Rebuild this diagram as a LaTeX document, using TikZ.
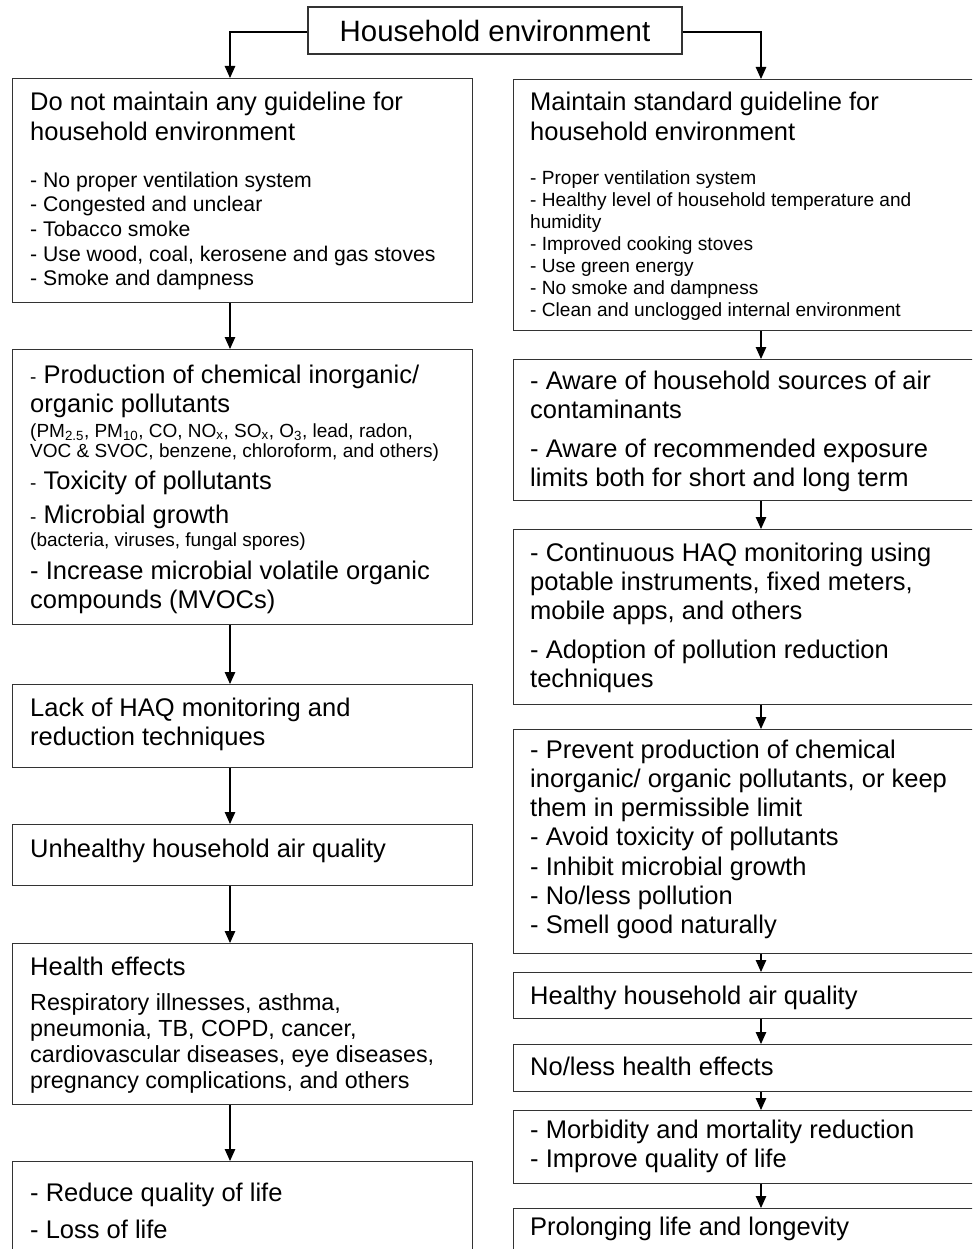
\documentclass[tikz,border=0pt]{standalone}
\usepackage{fontspec}
\setmainfont{Liberation Sans}
\usetikzlibrary{arrows.meta}
\newcommand{\htitle}{\fontsize{29.4}{34}\selectfont\spaceskip=0pt\xspaceskip=0pt}
\newcommand{\hbody}{\fontsize{25.5}{29.3}\selectfont\spaceskip=0pt\xspaceskip=0pt}
\newcommand{\hlist}{\fontsize{21.2}{24.6}\selectfont\spaceskip=0pt\xspaceskip=0pt}
\newcommand{\hright}{\fontsize{19.1}{22}\selectfont\spaceskip=0pt\xspaceskip=0pt}
\newcommand{\hnote}{\fontsize{19}{20}\selectfont\spaceskip=0pt\xspaceskip=0pt}
\newcommand{\hill}{\fontsize{23.3}{26}\selectfont\spaceskip=0pt\xspaceskip=0pt}
\begin{document}
\begin{tikzpicture}[x=1pt,y=-1pt,
  box/.style={draw=black!80, line width=1.2pt, inner sep=0pt, anchor=north west},
  txt/.style={anchor=base west, inner sep=0pt, align=left, text width=450pt, font=\hbody},
  arr/.style={draw=black, line width=1.1pt, -{Triangle[width=10.5pt,length=12pt]}}]
\useasboundingbox (0,0) rectangle (972,1249);
\fill [white] (0,0) rectangle (972,1249);
\clip (0,0) rectangle (972,1249);
\coordinate (lx) at (230,0);
\coordinate (rx) at (761,0);
\node [draw=black!80, line width=1.2pt, minimum width=374pt, minimum height=47pt, inner sep=0pt, font=\htitle] (env) at (495,30.5) {Household environment};
\node [box, minimum width=460pt, minimum height=224pt] (dnm) at (12,78) {};
\node [txt] (dnmt) at (30,111) {\hbody Do not maintain any guideline for\\household environment\par
\vspace{22.4pt}{\hlist - No proper ventilation system\\- Congested and unclear\\- Tobacco smoke\\- Use wood, coal, kerosene and gas stoves\\- Smoke and dampness\par}};
\node [box, minimum width=460pt, minimum height=275pt] (prod) at (12,349) {};
\node [txt] (prodt) at (30,383) {\hbody{\hnote -} Production of chemical inorganic/\\organic pollutants\par
\vspace{5pt}{\hnote (PM\textsubscript{2.5}, PM\textsubscript{10}, CO, NO\textsubscript{x}, SO\textsubscript{x}, O\textsubscript{3}, lead, radon,\\VOC \& SVOC, benzene, chloroform, and others)\par}
\vspace{2.7pt}{\hnote -} Toxicity of pollutants\par
\vspace{4.7pt}{\hnote -} Microbial growth\par
\vspace{3pt}{\hnote (bacteria, viruses, fungal spores)\par}
\vspace{3.7pt}- Increase microbial volatile organic\\compounds (MVOCs)\par};
\node [box, minimum width=460pt, minimum height=83pt] (lack) at (12,684) {};
\node [txt] (lackt) at (30,716) {\hbody Lack of HAQ monitoring and\\reduction techniques};
\node [box, minimum width=460pt, minimum height=61pt] (unh) at (12,824) {};
\node [txt] (unht) at (30,857) {\hbody Unhealthy household air quality};
\node [box, minimum width=460pt, minimum height=161pt] (hef) at (12,943) {};
\node [txt] (heft) at (30,975) {\hbody Health effects\par
\vspace{9pt}{\hill Respiratory illnesses, asthma,\\pneumonia, TB, COPD, cancer,\\cardiovascular diseases, eye diseases,\\pregnancy complications, and others\par}};
\node [box, minimum width=460pt, minimum height=200pt] (red) at (12,1161) {};
\node [txt] (redt) at (30,1201) {\hbody - Reduce quality of life\par
\vspace{7.7pt}- Loss of life\par};
\node [box, minimum width=480pt, minimum height=251pt] (msg) at (513,79) {};
\node [txt] (msgt) at (530,111) {\hbody Maintain standard guideline for\\household environment\par
\vspace{22pt}{\hright - Proper ventilation system\\- Healthy level of household temperature and\\humidity\\- Improved cooking stoves\\- Use green energy\\- No smoke and dampness\\- Clean and unclogged internal environment\par}};
\node [box, minimum width=480pt, minimum height=141pt] (awa) at (513,359) {};
\node [txt] (awat) at (530,389) {\hbody - Aware of household sources of air\\contaminants\par
\vspace{9.7pt}- Aware of recommended exposure\\limits both for short and long term\par};
\node [box, minimum width=480pt, minimum height=175pt] (mon) at (513,529) {};
\node [txt] (mont) at (530,561) {\hbody - Continuous HAQ monitoring using\\potable instruments, fixed meters,\\mobile apps, and others\par
\vspace{9.7pt}- Adoption of pollution reduction\\techniques\par};
\node [box, minimum width=480pt, minimum height=224pt] (prv) at (513,729) {};
\node [txt] (prvt) at (530,758) {\hbody - Prevent production of chemical\\inorganic/ organic pollutants, or keep\\them in permissible limit\\- Avoid toxicity of pollutants\\- Inhibit microbial growth\\- No/less pollution\\- Smell good naturally};
\node [box, minimum width=480pt, minimum height=46pt] (hhq) at (513,972) {};
\node [txt] (hhqt) at (530,1004) {\hbody Healthy household air quality};
\node [box, minimum width=480pt, minimum height=47pt] (nle) at (513,1044) {};
\node [txt] (nlet) at (530,1075) {\hbody No/less health effects};
\node [box, minimum width=480pt, minimum height=73pt] (mor) at (513,1110) {};
\node [txt] (mort) at (530,1138) {\hbody - Morbidity and mortality reduction\\- Improve quality of life};
\node [box, minimum width=480pt, minimum height=100pt] (pro) at (513,1208) {};
\node [txt] (prot) at (530,1235) {\hbody Prolonging life and longevity};
\draw [arr] (env.west |- 0,32) -| (dnm.north -| lx);
\draw [arr] (env.east |- 0,32) -| (msg.north -| rx);
\draw [arr] (dnm.south -| lx) -- (prod.north -| lx);
\draw [arr] (prod.south -| lx) -- (lack.north -| lx);
\draw [arr] (lack.south -| lx) -- (unh.north -| lx);
\draw [arr] (unh.south -| lx) -- (hef.north -| lx);
\draw [arr] (hef.south -| lx) -- (red.north -| lx);
\draw [arr] (msg.south -| rx) -- (awa.north -| rx);
\draw [arr] (awa.south -| rx) -- (mon.north -| rx);
\draw [arr] (mon.south -| rx) -- (prv.north -| rx);
\draw [arr] (prv.south -| rx) -- (hhq.north -| rx);
\draw [arr] (hhq.south -| rx) -- (nle.north -| rx);
\draw [arr] (nle.south -| rx) -- (mor.north -| rx);
\draw [arr] (mor.south -| rx) -- (pro.north -| rx);
\end{tikzpicture}
\end{document}
